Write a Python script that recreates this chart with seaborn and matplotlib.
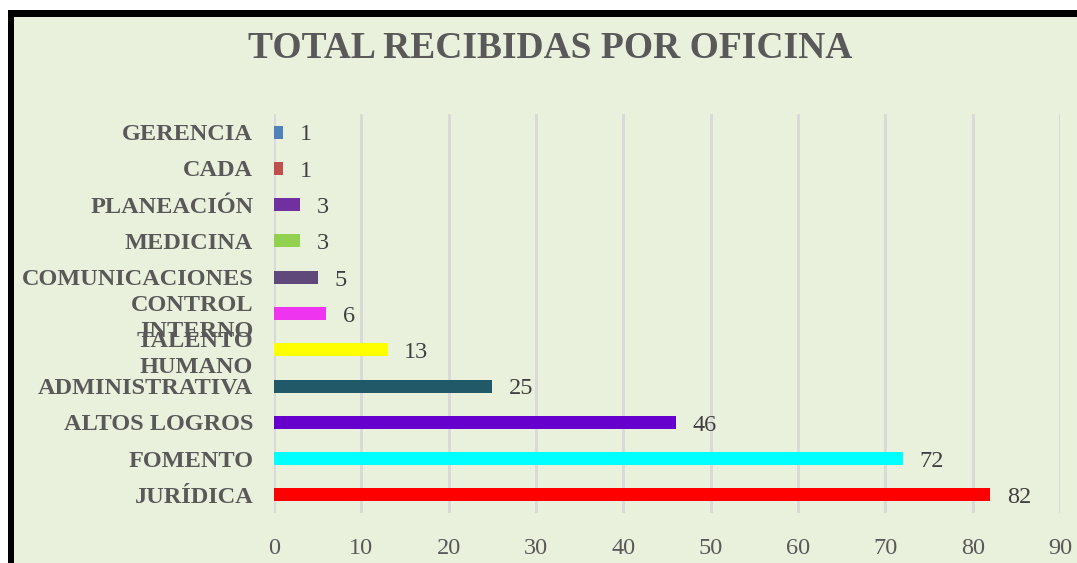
import matplotlib
matplotlib.use("Agg")
import matplotlib.pyplot as plt
from matplotlib.patches import Rectangle
import seaborn as sns
import pandas as pd

oficinas = ["GERENCIA", "CADA", "PLANEACIÓN", "MEDICINA", "COMUNICACIONES",
            "CONTROL\nINTERNO", "TALENTO\nHUMANO", "ADMINISTRATIVA",
            "ALTOS LOGROS", "FOMENTO", "JURÍDICA"]
recibidas = [1, 1, 3, 3, 5, 6, 13, 25, 46, 72, 82]
colores = ["#4F81BD", "#C0504D", "#7030A0", "#92D050", "#5F497A", "#EE34EE",
           "#FFFF00", "#215968", "#6600CC", "#00FFFF", "#FF0000"]
ticks_x = [0, 10, 20, 30, 40, 50, 60, 70, 80, 90]

BG = "#E9F0DC"
sns.set_style("white")
plt.rcParams["font.family"] = ["Liberation Serif", "DejaVu Serif"]

df = pd.DataFrame({"oficina": oficinas, "recibidas": recibidas})

fig = plt.figure(figsize=(10.77, 5.63), dpi=100, facecolor=BG)
# white margin and black frame (top / left)
fig.add_artist(Rectangle((0, 1 - 10 / 563), 1, 10 / 563, transform=fig.transFigure,
                         facecolor="white", edgecolor="none", zorder=0))
fig.add_artist(Rectangle((0, 0), 8 / 1077, 1, transform=fig.transFigure,
                         facecolor="white", edgecolor="none", zorder=0))
fig.add_artist(Rectangle((8 / 1077, 1 - 17 / 563), 1, 7 / 563, transform=fig.transFigure,
                         facecolor="black", edgecolor="none", zorder=1))
fig.add_artist(Rectangle((8 / 1077, 0), 6 / 1077, 1 - 10 / 563, transform=fig.transFigure,
                         facecolor="black", edgecolor="none", zorder=1))

ax = fig.add_axes([274 / 1077, 1 - 513 / 563, (1060 - 274) / 1077, (513 - 114) / 563])
ax.set_facecolor(BG)

sns.barplot(data=df, x="recibidas", y="oficina", hue="oficina", palette=colores,
            orient="h", width=0.36, legend=False, ax=ax, saturation=1,
            linewidth=0, zorder=3)

ax.set_xlim(0, 90)
ax.set_ylim(10.5, -0.5)
ax.set_xticks(ticks_x)
ax.xaxis.grid(True, color="#D9D9D9", linewidth=2, zorder=0)
ax.yaxis.grid(False)
for s in ax.spines.values():
    s.set_visible(False)
ax.tick_params(axis="x", length=0, pad=18, labelsize=17.5, labelcolor="#595959")
ax.tick_params(axis="y", length=0, pad=15, labelsize=17.5, labelcolor="#595959")
for lab in ax.get_yticklabels():
    lab.set_fontweight("bold")
    lab.set_linespacing(1.3)
ax.set_xlabel("")
ax.set_ylabel("")

for i, v in enumerate(recibidas):
    ax.annotate(str(v), (v, i), xytext=(12, -2), textcoords="offset points",
                va="center", ha="left", fontsize=17.5, color="#404040")

fig.text(550 / 1077, 1 - 48 / 563, "TOTAL RECIBIDAS POR OFICINA", ha="center",
         va="center", fontsize=27, fontweight="bold", color="#595959")

fig.savefig("out.png", dpi=100, facecolor=BG)
